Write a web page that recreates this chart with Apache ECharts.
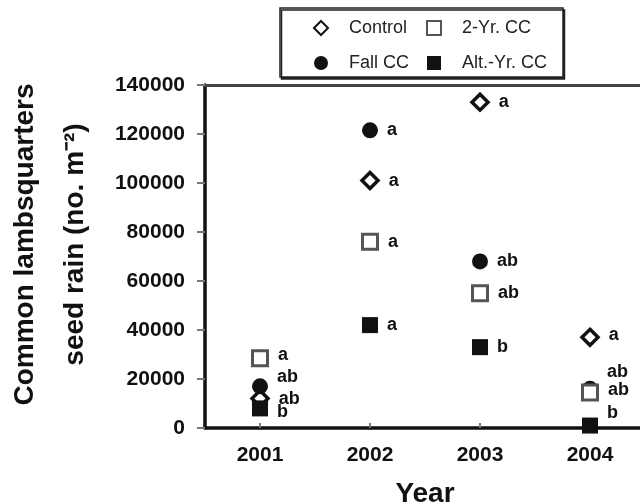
<!DOCTYPE html>
<html>
<head>
<meta charset="utf-8">
<script src="https://cdn.jsdelivr.net/npm/echarts@6/dist/echarts.min.js"></script>
<style>html,body{margin:0;padding:0;background:#fff}#c{width:640px;height:504px}</style>
</head>
<body>
<div id="c"></div>
<script>
// ---- data ----
var years = ['2001', '2002', '2003', '2004'];
var control   = [12000, 101000, 133000, 37000];
var fallCC    = [17000, 121500, 68000, 16000];
var twoYrCC   = [28500, 76000, 55000, 14500];
var altYrCC   = [8000, 42000, 33000, 1000];
var controlLetters = ['ab', 'a', 'a', 'a'];
var fallLetters    = ['ab', 'a', 'ab', 'ab'];
var twoYrLetters   = ['a', 'a', 'ab', 'ab'];
var altYrLetters   = ['b', 'a', 'b', 'b'];
var yMin = 0, yMax = 140000, yStep = 20000;

// ---- label nudges (layout only) ----
var nudge = {
  control: [0, 0, 0, -2],
  fall: [-9, 0, 0, -17],
  twoYr: [-3, 0, 0, -2],
  alt: [4, 0, 0, -13]
};

var FONT = '"Liberation Sans", Arial, sans-serif';

function build(values, letters, offs) {
  return values.map(function (v, i) {
    return {
      value: v,
      label: { formatter: letters[i], offset: [0, offs[i]] }
    };
  });
}

var labelBase = {
  show: true, position: 'right', distance: 9,
  color: '#111', fontFamily: FONT, fontWeight: 'bold', fontSize: 18
};

var chart = echarts.init(document.getElementById('c'));
chart.setOption({
  animation: false,
  backgroundColor: '#fff',
  grid: { left: 205, top: 85, width: 440, height: 343, containLabel: false, outerBoundsMode: 'none' },
  graphic: [{
    type: 'rect',
    shape: { x: 280, y: 8, width: 283, height: 69 },
    style: { fill: '#fff', stroke: '#222', lineWidth: 1.5,
             shadowColor: '#222', shadowOffsetX: 1.5, shadowOffsetY: 2, shadowBlur: 0 },
    z: -1
  }],
  legend: [{
    orient: 'vertical', left: 313, top: 18, padding: 0,
    itemWidth: 14, itemHeight: 14, itemGap: 15,
    data: ['Control', 'Fall CC'],
    textStyle: { fontFamily: FONT, fontSize: 18, color: '#222', lineHeight: 20, padding: [0, 0, 0, 16] }
  }, {
    orient: 'vertical', left: 426, top: 18, padding: 0,
    itemWidth: 14, itemHeight: 14, itemGap: 15,
    data: ['2-Yr. CC', 'Alt.-Yr. CC'],
    textStyle: { fontFamily: FONT, fontSize: 18, color: '#222', lineHeight: 20, padding: [0, 0, 0, 16] }
  }],
  xAxis: [{
    type: 'category', data: years, boundaryGap: true, position: 'bottom',
    axisLine: { lineStyle: { color: '#111', width: 3.5 } },
    axisTick: { show: true, inside: true, length: 5, alignWithLabel: true, lineStyle: { color: '#777', width: 2 } },
    axisLabel: { fontFamily: FONT, fontWeight: 'bold', fontSize: 21, color: '#111', margin: 17 },
    name: 'Year', nameLocation: 'middle', nameGap: 52,
    nameTextStyle: { fontFamily: FONT, fontWeight: 'bold', fontSize: 28, color: '#111' },
    splitLine: { show: false }
  }, {
    type: 'category', data: years, boundaryGap: true, position: 'top',
    axisLine: { lineStyle: { color: '#444', width: 3 } },
    axisTick: { show: false }, axisLabel: { show: false }, splitLine: { show: false }
  }],
  yAxis: {
    type: 'value', min: yMin, max: yMax, interval: yStep,
    axisLine: { show: true, lineStyle: { color: '#111', width: 3.5 } },
    axisTick: { show: true, inside: false, length: 8, lineStyle: { color: '#777', width: 2 } },
    axisLabel: { fontFamily: FONT, fontWeight: 'bold', fontSize: 21, color: '#111', margin: 20,
                 formatter: function (v) { return String(v); } },
    splitLine: { show: false },
    name: 'Common lambsquarters\nseed rain (no. m\u207B\u00B2)',
    nameLocation: 'middle', nameGap: 105, nameRotate: 90,
    nameTextStyle: { fontFamily: FONT, fontWeight: 'bold', fontSize: 28, color: '#111', lineHeight: 50,
                     padding: [0, 0, 0, 24] }
  },
  series: [{
    name: 'Control', type: 'scatter', symbol: 'diamond', symbolSize: 16,
    itemStyle: { color: '#fff', borderColor: '#111', borderWidth: 3.5, opacity: 1 },
    label: labelBase,
    data: build(control, controlLetters, nudge.control)
  }, {
    name: 'Fall CC', type: 'scatter', symbol: 'circle', symbolSize: 16,
    itemStyle: { color: '#111', opacity: 1 },
    label: labelBase,
    data: build(fallCC, fallLetters, nudge.fall)
  }, {
    name: '2-Yr. CC', type: 'scatter', symbol: 'rect', symbolSize: 15,
    itemStyle: { color: '#fff', borderColor: '#555', borderWidth: 3, opacity: 1 },
    label: labelBase,
    data: build(twoYrCC, twoYrLetters, nudge.twoYr)
  }, {
    name: 'Alt.-Yr. CC', type: 'scatter', symbol: 'rect', symbolSize: 16,
    itemStyle: { color: '#111', opacity: 1 },
    label: labelBase,
    data: build(altYrCC, altYrLetters, nudge.alt)
  }]
});
</script>
</body>
</html>
